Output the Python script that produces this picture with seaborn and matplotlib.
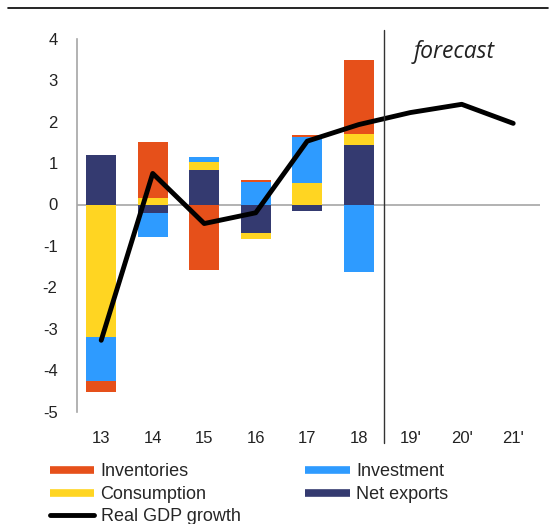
import numpy as np
import pandas as pd
import matplotlib
matplotlib.use("Agg")
import matplotlib.pyplot as plt
import seaborn as sns
from matplotlib.lines import Line2D

years = ["13", "14", "15", "16", "17", "18", "19'", "20'", "21'"]
net_exports = [1.20, -0.20, 0.83, -0.68, -0.15, 1.44]
consumption = [-3.20, 0.15, 0.20, -0.16, 0.51, 0.26]
investment = [-1.07, -0.58, 0.11, 0.54, 1.13, -1.62]
inventories = [-0.25, 1.35, -1.58, 0.05, 0.03, 1.80]
gdp_growth = [-3.28, 0.75, -0.46, -0.20, 1.53, 1.93, 2.22, 2.42, 1.96]

colors = {
    "Net exports": "#343A70",
    "Consumption": "#FFD522",
    "Investment": "#2E9BFF",
    "Inventories": "#E6501A",
}

sns.set_theme(style="white")
plt.rcParams["font.family"] = ["Liberation Sans", "DejaVu Sans"]

fig = plt.figure(figsize=(5.53, 5.24), dpi=100)
ax = fig.add_axes([77 / 553, 1 - 411.5 / 524, 463 / 553, (411.5 - 38.9) / 524])

x = np.arange(len(net_exports))
pos_bottom = np.zeros(len(x))
neg_bottom = np.zeros(len(x))
series = [("Net exports", net_exports), ("Consumption", consumption),
          ("Investment", investment), ("Inventories", inventories)]
for name, vals in series:
    vals = np.array(vals)
    bottoms = np.where(vals >= 0, pos_bottom, neg_bottom)
    ax.bar(x, vals, bottom=bottoms, width=0.58, color=colors[name], zorder=2, linewidth=0)
    pos_bottom = pos_bottom + np.where(vals >= 0, vals, 0)
    neg_bottom = neg_bottom + np.where(vals < 0, vals, 0)

gdf = pd.DataFrame({"x": np.arange(len(years)), "g": gdp_growth})
sns.lineplot(data=gdf, x="x", y="g", ax=ax, color="black", linewidth=3.5, zorder=4)

ax.axhline(0, color="#A6A6A6", linewidth=1.2, zorder=1)
ax.plot([5.5, 5.5], [4.21, -5.75], color="#333333", linewidth=1.0, clip_on=False, zorder=5)

ax.set_xlim(-0.47, 8.52)
ax.set_ylim(-5, 4)
ax.set_yticks(range(-5, 5))
ax.set_yticklabels([str(v) for v in range(-5, 5)], fontsize=12, color="#222222")
ax.set_xticks(range(len(years)))
ax.set_xticklabels(years, fontsize=12, color="#222222")
ax.tick_params(axis="x", length=0, pad=14)
ax.tick_params(axis="y", length=0, pad=14)
ax.set_xlabel("")
ax.set_ylabel("")
for s in ["top", "right", "bottom"]:
    ax.spines[s].set_visible(False)
ax.spines["left"].set_color("#A6A6A6")
ax.spines["left"].set_linewidth(1.2)

ax.text(6.85, 3.68, "forecast", fontsize=16.5, style="italic", ha="center", va="center",
        color="#222222", family=["Open Sans", "DejaVu Sans"])

# top rule
fig.add_artist(Line2D([8 / 553, 548 / 553], [1 - 8 / 524, 1 - 8 / 524], color="black", linewidth=1.2))

handles = [
    Line2D([], [], color=colors["Inventories"], linewidth=5.5, solid_capstyle="butt"),
    Line2D([], [], color=colors["Consumption"], linewidth=5.5, solid_capstyle="butt"),
    Line2D([], [], color="black", linewidth=3.5),
    Line2D([], [], color=colors["Investment"], linewidth=5.5, solid_capstyle="butt"),
    Line2D([], [], color=colors["Net exports"], linewidth=5.5, solid_capstyle="butt"),
]
labels = ["Inventories", "Consumption", "Real GDP growth", "Investment", "Net exports"]
leg = fig.legend(handles, labels, ncol=2, loc="upper left", bbox_to_anchor=(50 / 553, 1 - 463.5 / 524),
                 frameon=False, fontsize=13, handlelength=2.45, handletextpad=0.35,
                 columnspacing=3.6, labelspacing=0.3, borderaxespad=0, borderpad=0)

fig.savefig("out.png", dpi=100)
